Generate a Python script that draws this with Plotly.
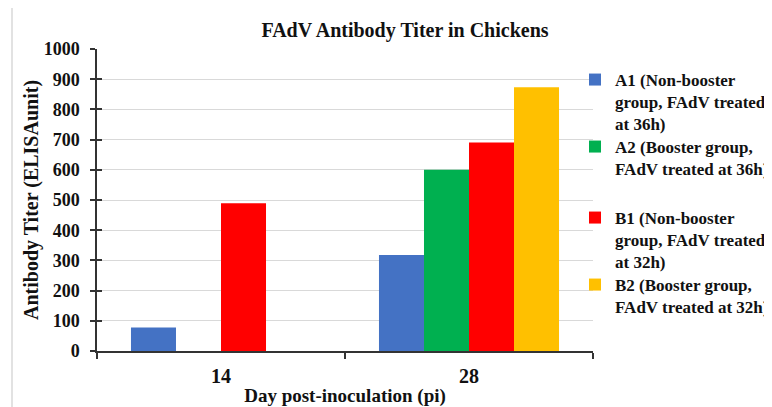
import plotly.graph_objects as go

days = ["14", "28"]
a1 = [78, 318]
a2 = [0, 600]
b1 = [489, 690]
b2 = [0, 873]

names = [
    "<b>A1 (Non-booster<br>group, FAdV treated<br>at 36h)</b>",
    "<b>A2 (Booster group,<br>FAdV treated at 36h)</b>",
    "<b>B1 (Non-booster<br>group, FAdV treated<br>at 32h)</b>",
    "<b>B2 (Booster group,<br>FAdV treated at 32h)</b>",
]
colors = ["#4472C4", "#00B050", "#FF0000", "#FFC000"]
series = [a1, a2, b1, b2]

# page body has an 8px margin; work in screen pixels and convert
OFF = 8
SW, SH = 772, 407
W, H = SW - OFF, SH - OFF
X0, X1, Y0, Y1 = 97, 593, 49, 351  # plot area in screen px
ML, MT = X0 - OFF, Y0 - OFF
PW, PH = X1 - X0, Y1 - Y0
MR, MB = W - ML - PW, H - MT - PH

def px_x(p):
    return (p - X0) / PW

def px_y(p):
    return (Y1 - p) / PH

FONT = "Liberation Serif"
TXT = "#111111"
fig = go.Figure()
legend_ids = ["legend", "legend2", "legend3", "legend4"]
legend_tops = [62, 129, 200, 267]
for vals, nm, col, lid in zip(series, names, colors, legend_ids):
    fig.add_trace(go.Bar(x=days, y=vals, name=nm, marker=dict(color=col, line=dict(width=0)),
                         legend=lid))

# helper trace for inner tick marks on y
fig.add_trace(go.Scatter(x=[], y=[], yaxis="y2", showlegend=False, hoverinfo="skip"))

layout_legends = {}
for lid, top in zip(legend_ids, legend_tops):
    layout_legends[lid] = dict(
        x=px_x(575), xanchor="left", y=px_y(top), yanchor="top",
        font=dict(family=FONT, size=17, color=TXT),
        bgcolor="rgba(0,0,0,0)", valign="top", itemwidth=30,
    )

fig.update_layout(
    width=W, height=H,
    font=dict(family=FONT, color=TXT),
    margin=dict(l=ML, r=MR, t=MT, b=MB, pad=0, autoexpand=False),
    paper_bgcolor="white", plot_bgcolor="white",
    barmode="group", bargap=0.274, bargroupgap=0,
    title=dict(text="<b>FAdV Antibody Titer in Chickens</b>", x=(405 - OFF) / W, xanchor="center",
               y=1 - (30 - OFF) / H, yanchor="middle",
               font=dict(family=FONT, size=20, color=TXT)),
    xaxis=dict(
        type="category", tickson="boundaries", ticks="outside", ticklen=6, tickcolor="#333",
        tickwidth=1.5, automargin=False,
        showline=True, linecolor="#333", linewidth=1.5, showgrid=False,
        tickfont=dict(family=FONT, size=20, color=TXT),
        ticklabelstandoff=6,
        tickprefix="<b>", ticksuffix="</b>",
        title=dict(text="<b>Day post-inoculation (pi)</b>", standoff=3,
                   font=dict(family=FONT, size=19, color=TXT)),
    ),
    yaxis=dict(
        range=[0, 1000], dtick=100, ticks="outside", ticklen=5, tickcolor="#333", tickwidth=1.5,
        showline=True, linecolor="#333", linewidth=1.5, automargin=False,
        showgrid=True, gridcolor="#d9d9d9", gridwidth=1, zeroline=False,
        tickfont=dict(family=FONT, size=18, color=TXT),
        tickprefix="<b>", ticksuffix="</b>",
        ticklabelstandoff=7,
        title=dict(text="<b>Antibody Titer (ELISAunit)</b>", standoff=0,
                   font=dict(family=FONT, size=20, color=TXT)),
    ),
    yaxis2=dict(
        range=[0, 1000], dtick=100, overlaying="y", side="left", ticks="inside", ticklen=5,
        tickcolor="#333", tickwidth=1.5, showticklabels=False, showgrid=False,
        zeroline=False, showline=False, automargin=False,
    ),
    showlegend=True,
    **layout_legends,
)

# outer frame of the chart area (cropped at right and bottom)
fig.add_shape(type="line", xref="paper", yref="paper",
              x0=px_x(12), x1=px_x(SW + 5), y0=px_y(5), y1=px_y(5),
              line=dict(color="#d9d9d9", width=1.5))
fig.add_shape(type="line", xref="paper", yref="paper",
              x0=px_x(12), x1=px_x(12), y0=px_y(5), y1=px_y(SH + 5),
              line=dict(color="#d9d9d9", width=1.5))

fig.write_html("out.html")
